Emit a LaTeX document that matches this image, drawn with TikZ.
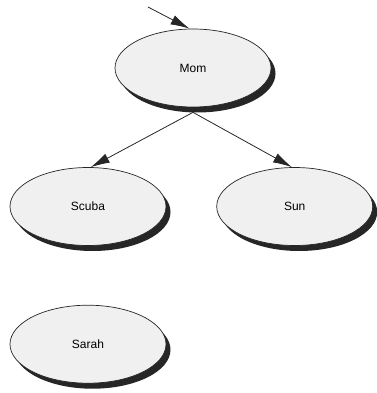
\documentclass[tikz,border=0pt]{standalone}
\usepackage{fontspec}
\setmainfont{Liberation Sans}
\usepackage{tikz}
\usetikzlibrary{positioning}
\usetikzlibrary{shapes.geometric, arrows.meta, shadows}
\tikzstyle{state} = [ellipse,draw=black!85,line width=0.7pt,fill=black!6,minimum width=156pt,minimum height=78pt,inner sep=0pt,font=\fontsize{12}{14}\selectfont,drop shadow={shadow xshift=4.5pt,shadow yshift=-5.5pt,fill=black!85,opacity=1}]
\tikzstyle{arrow} = [line width=0.8pt,black!85,-{Latex[length=19pt,width=10pt]}]

\begin{document}
\begin{tikzpicture}[x=1pt,y=-1pt]
	\useasboundingbox (0,0) rectangle (376,393);
	\node[state] (mom) at (193,68) {Mom};
	\node[state] (scuba) at (88,206.5) {Scuba};
	\node[state,right=50pt of scuba] (sun) {Sun};
	\node[state,below=59pt of scuba] (sarah) {Sarah};
	\coordinate (in) at (148,7);
	\draw[arrow] (in) -- (mom.95);
	\draw[arrow] ([yshift=-5pt]mom.south) -- (scuba.86);
	\draw[arrow] ([yshift=-5pt]mom.south) -- (sun.94);
\end{tikzpicture}
\end{document}
